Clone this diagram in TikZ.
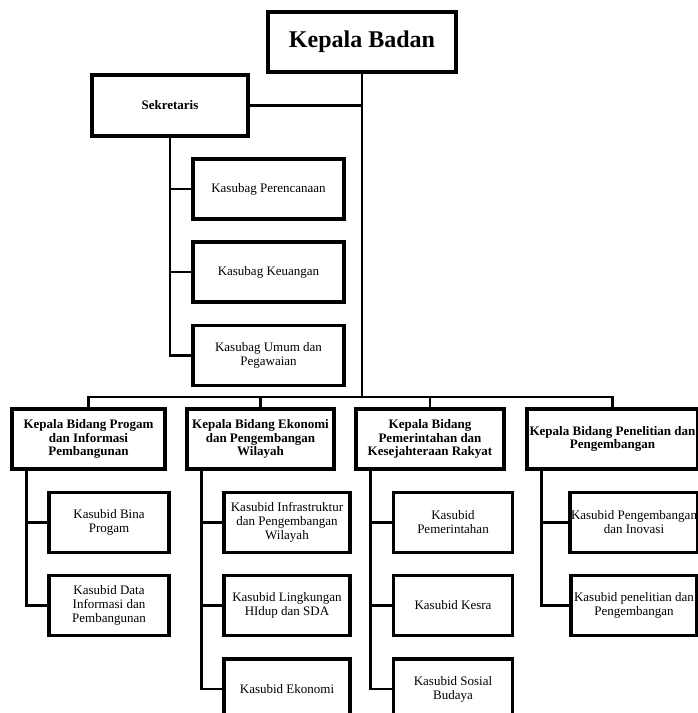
\documentclass[tikz,border=0pt]{standalone}
\usepackage{fontspec}
\setmainfont{Liberation Serif}

\begin{document}
\begin{tikzpicture}[x=1pt, y=-1pt,
    box/.style={draw, line width=3.6pt, minimum height=60pt, inner sep=1pt, align=center, font=\fontsize{13}{14}\selectfont},
    head/.style={box, font=\fontsize{13}{13.7}\selectfont\bfseries},
    link/.style={line width=2.8pt}]
    \clip (0,0) rectangle (698,713);

    \node[box, minimum width=188pt, font=\fontsize{24}{28}\selectfont\bfseries] (kepala) at (362,42) {Kepala Badan};
    \node[head, minimum width=156pt, minimum height=61pt] (sekretaris) at (170,105.5) {Sekretaris};
    \node[box, minimum width=151pt] (perencanaan) at (268.5,189) {Kasubag Perencanaan};
    \node[box, minimum width=151pt] (keuangan) at (268.5,272) {Kasubag Keuangan};
    \node[box, minimum width=151pt] (umum) at (268.5,355.5) {Kasubag Umum dan\\Pegawaian};
    \coordinate (bus) at (362,397);

    \node[head, minimum width=153pt] (progam) at (88.5,439) {Kepala Bidang Progam\\dan Informasi\\Pembangunan};
    \node[head, minimum width=147pt] (ekonomi) at (260.5,439) {Kepala Bidang Ekonomi\\dan Pengembangan\\Wilayah};
    \node[head, minimum width=148pt] (pemerintahan) at (430,439) {Kepala Bidang\\Pemerintahan dan\\Kesejahteraan Rakyat};
    \node[head, minimum width=171pt] (penelitian) at (612.5,439) {Kepala Bidang Penelitian dan\\Pengembangan};

    \node[box, minimum width=120pt] (bina) at (109,522.5) {Kasubid Bina\\Progam};
    \node[box, minimum width=120pt] (data) at (109,605.5) {Kasubid Data\\Informasi dan\\Pembangunan};
    \node[box, minimum width=126pt] (infrastruktur) at (287,522.5) {Kasubid Infrastruktur\\dan Pengembangan\\Wilayah};
    \node[box, minimum width=126pt] (lingkungan) at (287,605.5) {Kasubid Lingkungan\\HIdup dan SDA};
    \node[box, minimum width=126pt] (subekonomi) at (287,689) {Kasubid Ekonomi};
    \node[box, minimum width=119pt] (subpemerintahan) at (453,522.5) {Kasubid\\Pemerintahan};
    \node[box, minimum width=119pt] (kesra) at (453,605.5) {Kasubid Kesra};
    \node[box, minimum width=119pt] (sosial) at (453,689) {Kasubid Sosial\\Budaya};
    \node[box, minimum width=126pt] (inovasi) at (634,522.5) {Kasubid Pengembangan\\dan Inovasi};
    \node[box, minimum width=126pt] (subpenelitian) at (634,605.5) {Kasubid penelitian dan\\Pengembangan};

    \draw[link] (kepala) -- (bus);
    \draw[link] (sekretaris.east) -- (sekretaris.east -| kepala);
    \foreach \s in {perencanaan,keuangan,umum}
        \draw[link] (sekretaris.south) |- (\s.west);
    \foreach \b in {progam,ekonomi,pemerintahan,penelitian}
        \draw[link] (bus) -| (\b.north);

    \foreach \b/\s in {progam/bina,progam/data,
                       ekonomi/infrastruktur,ekonomi/lingkungan,ekonomi/subekonomi,
                       pemerintahan/subpemerintahan,pemerintahan/kesra,pemerintahan/sosial,
                       penelitian/inovasi,penelitian/subpenelitian}
        \draw[link] ([xshift=16pt]\b.south west) |- (\s.west);
\end{tikzpicture}
\end{document}
